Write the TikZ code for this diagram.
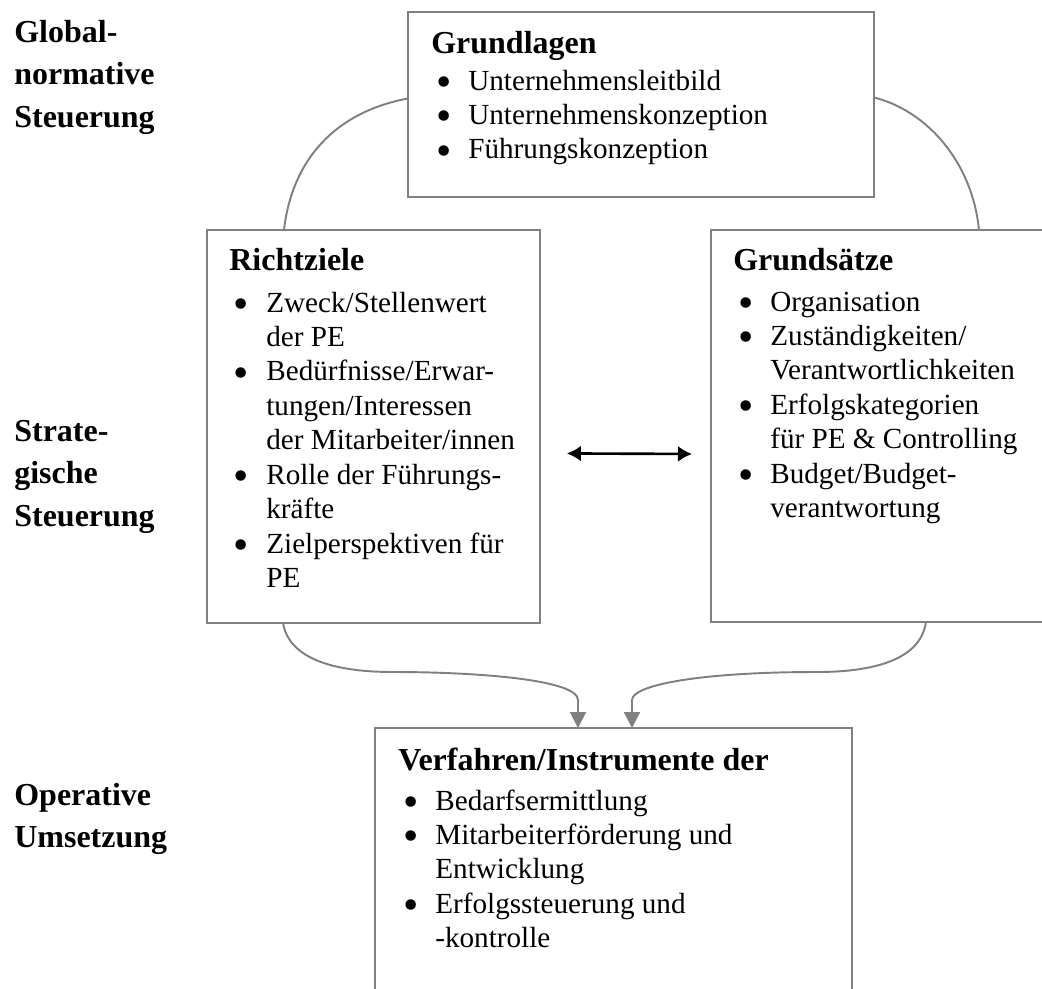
\documentclass[tikz,border=0pt]{standalone}
\usepackage{fontspec}
\setmainfont{Liberation Serif}
\usetikzlibrary{arrows.meta,calc}

\definecolor{linegray}{RGB}{128,128,128}
\newcommand{\bodyfont}{\fontsize{16.6}{19.6}\selectfont}
\newcommand{\headfont}{\fontsize{18.2}{24.2}\selectfont\bfseries}
\newcommand{\itm}{\raisebox{-0.22em}{\scalebox{1.5}{•}}}

\begin{document}
\begin{tikzpicture}[
    x=0.02cm, y=-0.02cm,
    box/.style={draw=linegray, line width=1.3pt, inner sep=0pt, outer sep=0pt, anchor=north west},
    head/.style={inner sep=0pt, anchor=base west, font=\headfont},
    lbl/.style={inner sep=0pt, anchor=base west, font=\headfont},
    list/.style={inner sep=0pt, anchor=base west, font=\bodyfont},
    flow/.style={draw=linegray, line width=1.1pt, -{Triangle[length=0.32cm, width=0.32cm]}},
    link/.style={draw=linegray, line width=1.1pt},
    dbl/.style={line width=1.5pt, {Latex[length=0.28cm, width=0.32cm]}-{Latex[length=0.28cm, width=0.32cm]}}
]
  \useasboundingbox (0,0) rectangle (1042,988);
  \fill[white] (0,0) rectangle (1042,988);

  \begin{scope}
  \clip (0,0) rectangle (1042,988);

  % Level labels
  \node[lbl] (lglob) at (14,42) {\begin{tabular}[t]{@{}l@{}}Global-\\normative\\Steuerung\end{tabular}};
  \node[lbl] (lstrat) at (14,441) {\begin{tabular}[t]{@{}l@{}}Strate-\\gische\\Steuerung\end{tabular}};
  \node[lbl] (lop) at (14,805) {\begin{tabular}[t]{@{}l@{}}Operative\\Umsetzung\end{tabular}};

  % Boxes
  \node[box, minimum width=9.32cm, minimum height=3.70cm] (gl) at (408,12) {};
  \node[box, minimum width=6.66cm, minimum height=7.86cm] (rz) at (207,230) {};
  \node[box, minimum width=7.78cm, minimum height=7.84cm] (gs) at (711,230) {};
  \node[box, minimum width=9.54cm, minimum height=6.44cm] (vf) at (375,728) {};

  % Grundlagen
  \node[head] (gl-head) at (431,53) {Grundlagen};
  \node[list] (gl-list) at (436,90) {\begin{tabular}[t]{@{}p{0.64cm}@{}l@{}}
    \itm & Unternehmensleitbild\\
    \itm & Unternehmenskonzeption\\
    \itm & Führungskonzeption
  \end{tabular}};

  % Richtziele
  \node[head] (rz-head) at (229,270) {Richtziele};
  \node[list] (rz-list) at (233,312) {\begin{tabular}[t]{@{}p{0.66cm}@{}l@{}}
    \itm & Zweck/Stellenwert\\
         & der PE\\
    \itm & Bedürfnisse/Erwar-\\
         & tungen/Interessen\\
         & der Mitarbeiter/innen\\
    \itm & Rolle der Führungs-\\
         & kräfte\\
    \itm & Zielperspektiven für\\
         & PE
  \end{tabular}};

  % Grundsaetze
  \node[head] (gs-head) at (733,270) {Grundsätze};
  \node[list] (gs-list) at (738,311) {\begin{tabular}[t]{@{}p{0.64cm}@{}l@{}}
    \itm & Organisation\\
    \itm & Zuständigkeiten/\\
         & Verantwortlichkeiten\\
    \itm & Erfolgskategorien\\
         & für PE \& Controlling\\
    \itm & Budget/Budget-\\
         & verantwortung
  \end{tabular}};

  % Verfahren
  \node[head] (vf-head) at (398,770) {Verfahren/Instrumente der};
  \node[list] (vf-list) at (403,810) {\begin{tabular}[t]{@{}p{0.64cm}@{}l@{}}
    \itm & Bedarfsermittlung\\
    \itm & Mitarbeiterförderung und\\
         & Entwicklung\\
    \itm & Erfolgssteuerung und\\
         & -kontrolle
  \end{tabular}};

  % Connectors
  \coordinate (rz-top) at ($(rz.north west)+(77,0)$);
  \coordinate (gs-top) at ($(gs.north west)+(268,0)$);
  \coordinate (rz-bot) at ($(rz.south west)+(76,0)$);
  \coordinate (gs-bot) at ($(gs.south west)+(215,0)$);
  \coordinate (vf-in1) at ($(vf.north west)+(203,0)$);
  \coordinate (vf-in2) at ($(vf.north west)+(257,0)$);

  \draw[link] (rz-top) .. controls (292,160) and (335,112) .. ($(gl.west)+(0,-6)$);
  \draw[link] ($(gl.east)+(0,-7)$) .. controls (925,110) and (972,160) .. (gs-top);
  \draw[flow] (rz-bot) .. controls (290,665) and (350,672) .. (393,672)
    .. controls (480,672) and (578,680) .. (578,700) -- (vf-in1);
  \draw[flow] (gs-bot) .. controls (920,665) and (860,672) .. (817,672)
    .. controls (700,672) and (632,685) .. (632,700) -- (vf-in2);
  \draw[dbl] ($(rz.east)+(27,27)$) -- ($(gs.west)+(-19,28)$);
  \end{scope}
\end{tikzpicture}
\end{document}
